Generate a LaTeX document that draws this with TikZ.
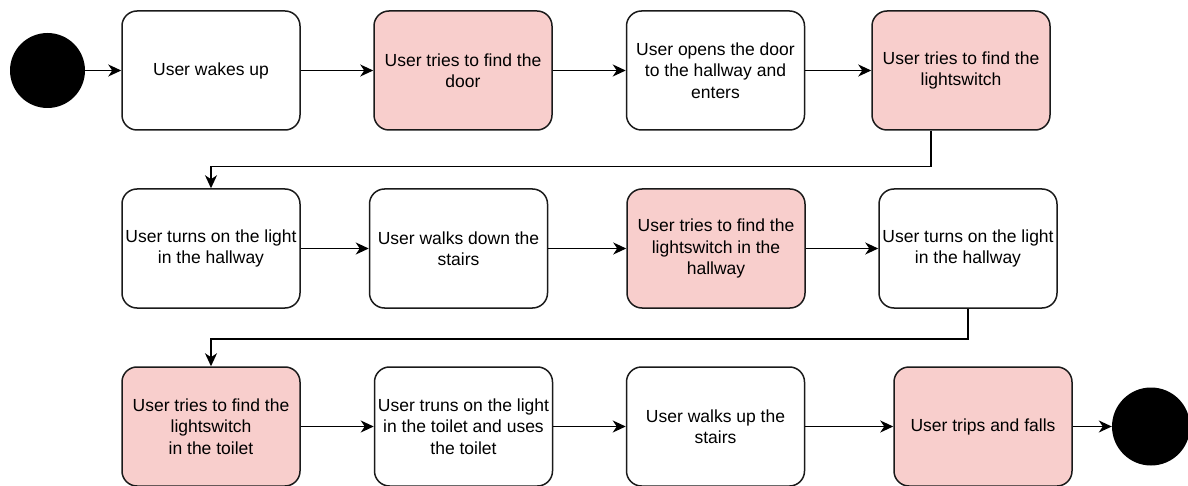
\documentclass[tikz,border=0pt]{standalone}
\usepackage{fontspec}
\setmainfont{Liberation Sans}
\usetikzlibrary{arrows.meta,calc}
\definecolor{alertfill}{HTML}{F8CECC}
\definecolor{edge}{HTML}{1A1A1A}
\tikzset{
  state/.style={draw=edge, line width=1.5pt, rounded corners=15pt, fill=white,
    minimum width=178pt, minimum height=119pt, inner sep=0pt, align=center,
    font=\fontsize{17.5}{21.5}\selectfont},
  problem/.style={state, fill=alertfill},
  terminal/.style={circle, fill=black, draw=none, inner sep=0pt},
  flow/.style={draw=black, line width=1.5pt, -{Stealth[length=13pt,width=12pt,inset=4pt]}}
}
\begin{document}
\begin{tikzpicture}[x=1pt,y=-1pt]
\useasboundingbox (0,0) rectangle (1188,486);

% start and end markers
\node[terminal, minimum size=75pt] (start) at (47.5,70.5) {};
\node[terminal, minimum size=78pt] (stop) at (1151,426.5) {};

% first row
\node[state]   (b1) at (211,70.5)   {User wakes up};
\node[problem] (b2) at (463,70.5)   {User tries to find the\\door};
\node[state]   (b3) at (715.5,70.5) {User opens the door\\to the hallway and\\enters};
\node[problem] (b4) at (961,70.5)   {User tries to find the\\lightswitch};

% second row
\node[state]   (b5) at (211,248.5)   {User turns on the light\\in the hallway};
\node[state]   (b6) at (458.5,248.5) {User walks down the\\stairs};
\node[problem] (b7) at (716,248.5)   {User tries to find the\\lightswitch in the\\hallway};
\node[state]   (b8) at (968,248.5)   {User turns on the light\\in the hallway};

% third row
\node[problem] (b9)  at (211,426.5)   {User tries to find the\\lightswitch\\in the toilet};
\node[state]   (b10) at (463.5,426.5) {User truns on the light\\in the toilet and uses\\the toilet};
\node[state]   (b11) at (715.5,426.5) {User walks up the\\stairs};
\node[problem] (b12) at (983,426.5)   {User trips and falls};

% connectors along the rows
\draw[flow] (start) -- (b1);
\draw[flow] (b1) -- (b2);
\draw[flow] (b2) -- (b3);
\draw[flow] (b3) -- (b4);
\draw[flow] (b5) -- (b6);
\draw[flow] (b6) -- (b7);
\draw[flow] (b7) -- (b8);
\draw[flow] (b9) -- (b10);
\draw[flow] (b10) -- (b11);
\draw[flow] (b11) -- (b12);
\draw[flow] (b12) -- (stop);

% connectors wrapping to the next row
\draw[flow, rounded corners=0pt] ([xshift=-30pt]b4.south) -- ++(0,36) -| (b5.north);
\draw[flow, rounded corners=0pt] (b8.south) -- ++(0,30) -| (b9.north);
\end{tikzpicture}
\end{document}
